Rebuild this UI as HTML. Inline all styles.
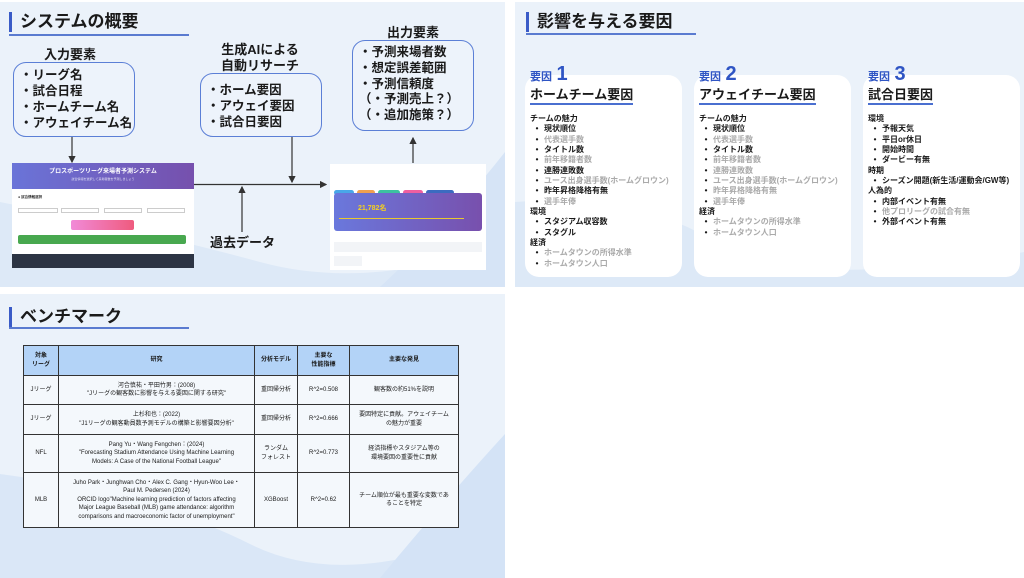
<!DOCTYPE html>
<html><head><meta charset="utf-8"><style>
*{margin:0;padding:0;box-sizing:border-box}
body{width:1024px;height:578px;background:#fff;position:relative;overflow:hidden;font-family:"Liberation Sans","Noto Sans CJK JP",sans-serif;color:#1a1a1a}
.p{position:absolute;background:#ebf2fa;overflow:hidden}
.a{position:absolute}
.ttl{position:absolute;font-size:17px;font-weight:bold;border-left:3px solid #3a5bc7;padding-left:8px;line-height:20px}
.ul{position:absolute;height:2px;background:#5a7bd0}
.box{position:absolute;border:1.5px solid #5b7fd6;border-radius:13px;background:#edf3fb;font-weight:bold;font-size:12.5px;line-height:16px;padding:4px 0 0 6px}
.lbl{position:absolute;font-weight:bold;font-size:13px;text-align:center;line-height:16px}
.card{position:absolute;background:#fff;border-radius:14px;top:75px;height:202px;width:157px}
.yh{position:absolute;color:#2f55c4;font-weight:bold}
.ch{position:absolute;font-weight:bold;font-size:13px;border-bottom:2px solid #4a6fd0;line-height:16px}
.lst{position:absolute;font-size:8px;font-weight:bold;line-height:10.35px}
.lst .g{color:#aaa}
.lst i{font-style:normal;display:inline-block;width:14px;text-align:center}
table{position:absolute;left:23px;top:345px;width:436px;border-collapse:collapse;font-size:6px;line-height:8.5px}
td,th{border:1.5px solid #333;text-align:center;vertical-align:middle}
th{background:#b3d3f7;height:30px}
td{background:#f4f8fc}
</style></head><body>
<!-- panel 1 -->
<div class="p" style="left:0;top:2px;width:505px;height:285px">
 <svg class="a" style="left:0;top:0" width="505" height="285"><path d="M0 200 Q150 230 260 260 T505 240 L505 285 L0 285Z" fill="#dde9f7"/><path d="M380 285 Q450 220 505 150 L505 285Z" fill="#d6e4f6"/></svg>
</div>
<div class="ttl" style="left:9px;top:12px">システムの概要</div>
<div class="ul" style="left:9px;top:34px;width:180px"></div>
<div class="lbl" style="left:20px;top:47px;width:100px">入力要素</div>
<div class="box" style="left:13px;top:62px;width:122px;height:75px">・リーグ名<br>・試合日程<br>・ホームチーム名<br>・アウェイチーム名</div>
<div class="lbl" style="left:200px;top:42px;width:120px">生成AIによる<br>自動リサーチ</div>
<div class="box" style="left:200px;top:73px;width:122px;height:64px;padding-top:8px">・ホーム要因<br>・アウェイ要因<br>・試合日要因</div>
<div class="lbl" style="left:363px;top:25px;width:100px">出力要素</div>
<div class="box" style="left:352px;top:40px;width:122px;height:91px;line-height:15.8px">・予測来場者数<br>・想定誤差範囲<br>・予測信頼度<br>（・予測売上？）<br>（・追加施策？）</div>
<div class="lbl" style="left:205px;top:235px;width:75px;font-size:13px">過去データ</div>
<svg class="a" style="left:0;top:0" width="505" height="290">
 <defs><marker id="ar" markerWidth="6" markerHeight="6" refX="5" refY="3" orient="auto"><path d="M0 0L6 3L0 6Z" fill="#333"/></marker></defs>
 <g stroke="#333" stroke-width="1.2" fill="none">
 <line x1="72" y1="137" x2="72" y2="162" marker-end="url(#ar)"/>
 <line x1="292" y1="137" x2="292" y2="182" marker-end="url(#ar)"/>
 <line x1="194" y1="184.5" x2="326" y2="184.5" marker-end="url(#ar)"/>
 <line x1="242" y1="232" x2="242" y2="187" marker-end="url(#ar)"/>
 <line x1="413" y1="163" x2="413" y2="138" marker-end="url(#ar)"/>
 </g>
</svg>
<!-- left screenshot -->
<div class="a" style="left:12px;top:163px;width:182px;height:105px;background:#fff">
 <div class="a" style="left:0;top:0;width:182px;height:26px;background:linear-gradient(90deg,#6a74d8,#7650ad);color:#fff;font-size:6px;font-weight:bold;text-align:center;line-height:7px;padding-top:6px">プロスポーツリーグ来場者予測システム<div style="font-size:3px;font-weight:normal;opacity:.8">試合情報を選択して来場者数を予測しましょう</div></div>
 <div class="a" style="left:6px;top:32px;font-size:3.5px;font-weight:bold">● 試合情報選択</div>
 <div class="a" style="left:6px;top:45px;width:40px;height:5px;border:.5px solid #ccc"></div>
 <div class="a" style="left:49px;top:45px;width:38px;height:5px;border:.5px solid #ccc"></div>
 <div class="a" style="left:92px;top:45px;width:38px;height:5px;border:.5px solid #ccc"></div>
 <div class="a" style="left:135px;top:45px;width:38px;height:5px;border:.5px solid #ccc"></div>
 <div class="a" style="left:59px;top:57px;width:63px;height:10px;background:linear-gradient(90deg,#f18ad8,#ef5b7e);border-radius:2px"></div>
 <div class="a" style="left:6px;top:72px;width:168px;height:9px;background:#48a84f;border-radius:2px"></div>
 <div class="a" style="left:0;top:91px;width:182px;height:14px;background:#2c3444"></div>
</div>
<!-- right screenshot -->
<div class="a" style="left:330px;top:164px;width:156px;height:106px;background:#fff">
 <div class="a" style="left:4px;top:18px;width:148px;height:6px"><span style="display:inline-block;width:20px;height:5px;background:#49a7e8;border-radius:3px;margin-right:3px"></span><span style="display:inline-block;width:18px;height:5px;background:#f0a050;border-radius:3px;margin-right:3px"></span><span style="display:inline-block;width:22px;height:5px;background:#3cc2a0;border-radius:3px;margin-right:3px"></span><span style="display:inline-block;width:20px;height:5px;background:#ef5fa0;border-radius:3px;margin-right:3px"></span><span style="display:inline-block;width:28px;height:5px;background:#3b6bc0;border-radius:3px"></span></div>
 <div class="a" style="left:4px;top:29px;width:148px;height:38px;background:linear-gradient(90deg,#6a78dc,#7850ad);border-radius:3px"><div class="a" style="left:24px;top:10px;color:#f5d020;font-size:7px;font-weight:bold">21,782名</div><div class="a" style="left:5px;top:25px;width:125px;height:1px;background:#e8c830"></div></div>
 <div class="a" style="left:4px;top:78px;width:148px;height:10px;background:#f2f4f7"></div>
 <div class="a" style="left:4px;top:92px;width:28px;height:10px;background:#f2f4f7"></div>
</div>
<!-- panel 2 -->
<div class="p" style="left:515px;top:2px;width:509px;height:285px">
 <svg class="a" style="left:0;top:0" width="509" height="285"><path d="M0 200 Q120 190 200 240 T509 250 L509 285 L0 285Z" fill="#dde9f7"/></svg>
</div>
<div class="ttl" style="left:526px;top:12px">影響を与える要因</div>
<div class="ul" style="left:526px;top:33px;width:170px"></div>
<div class="card" style="left:525px"></div>
<div class="card" style="left:694px"></div>
<div class="card" style="left:863px"></div>
<div class="yh" style="left:530px;top:63px"><span style="font-size:11px">要因</span> <span style="font-size:20px">1</span></div>
<div class="yh" style="left:699px;top:63px"><span style="font-size:11px">要因</span> <span style="font-size:20px">2</span></div>
<div class="yh" style="left:868px;top:63px"><span style="font-size:11px">要因</span> <span style="font-size:20px">3</span></div>
<div class="ch" style="left:530px;top:87px">ホームチーム要因</div>
<div class="ch" style="left:699px;top:87px">アウェイチーム要因</div>
<div class="ch" style="left:868px;top:87px">試合日要因</div>
<div class="lst" style="left:530px;top:114px">チームの魅力<br><i>•</i>現状順位<br><i>•</i><span class="g">代表選手数</span><br><i>•</i>タイトル数<br><i>•</i><span class="g">前年移籍者数</span><br><i>•</i>連勝連敗数<br><i>•</i><span class="g">ユース出身選手数(ホームグロウン)</span><br><i>•</i>昨年昇格降格有無<br><i>•</i><span class="g">選手年俸</span><br>環境<br><i>•</i>スタジアム収容数<br><i>•</i>スタグル<br>経済<br><i>•</i><span class="g">ホームタウンの所得水準</span><br><i>•</i><span class="g">ホームタウン人口</span></div>
<div class="lst" style="left:699px;top:114px">チームの魅力<br><i>•</i>現状順位<br><i>•</i><span class="g">代表選手数</span><br><i>•</i>タイトル数<br><i>•</i><span class="g">前年移籍者数</span><br><i>•</i><span class="g">連勝連敗数</span><br><i>•</i><span class="g">ユース出身選手数(ホームグロウン)</span><br><i>•</i><span class="g">昨年昇格降格有無</span><br><i>•</i><span class="g">選手年俸</span><br>経済<br><i>•</i><span class="g">ホームタウンの所得水準</span><br><i>•</i><span class="g">ホームタウン人口</span></div>
<div class="lst" style="left:868px;top:114px">環境<br><i>•</i>予報天気<br><i>•</i>平日or休日<br><i>•</i>開始時間<br><i>•</i>ダービー有無<br>時期<br><i>•</i>シーズン開題(新生活/運動会/GW等)<br>人為的<br><i>•</i>内部イベント有無<br><i>•</i><span class="g">他プロリーグの試合有無</span><br><i>•</i>外部イベント有無</div>
<!-- panel 3 -->
<div class="p" style="left:0;top:294px;width:505px;height:284px">
 <svg class="a" style="left:0;top:0" width="505" height="284"><path d="M0 180 Q150 200 250 250 T505 230 L505 284 L0 284Z" fill="#dae7f7"/><path d="M380 284 Q450 200 505 140 L505 284Z" fill="#d4e3f6"/></svg>
</div>
<div class="ttl" style="left:9px;top:307px">ベンチマーク</div>
<div class="ul" style="left:9px;top:327px;width:180px"></div>
<table>
<tr><th style="width:35px">対象<br>リーグ</th><th style="width:196px">研究</th><th style="width:43px">分析モデル</th><th style="width:52px">主要な<br>性能指標</th><th>主要な発見</th></tr>
<tr style="height:29px"><td>Jリーグ</td><td>河合慎祐・平田竹男：(2008)<br>"Jリーグの観客数に影響を与える要因に関する研究"</td><td>重回帰分析</td><td>R^2=0.508</td><td>観客数の約51%を説明</td></tr>
<tr style="height:30px"><td>Jリーグ</td><td>上杉和也：(2022)<br>"J1リーグの観客動員数予測モデルの構築と影響要因分析"</td><td>重回帰分析</td><td>R^2=0.666</td><td>要因特定に貢献。アウェイチーム<br>の魅力が重要</td></tr>
<tr style="height:38px"><td>NFL</td><td>Pang Yu・Wang Fengchen：(2024)<br>"Forecasting Stadium Attendance Using Machine Learning<br>Models: A Case of the National Football League"</td><td>ランダム<br>フォレスト</td><td>R^2=0.773</td><td>経済指標やスタジアム等の<br>環境要因の重要性に貢献</td></tr>
<tr style="height:55px"><td>MLB</td><td>Juho Park・Junghwan Cho・Alex C. Gang・Hyun-Woo Lee・<br>Paul M. Pedersen (2024)<br>ORCID logo"Machine learning prediction of factors affecting<br>Major League Baseball (MLB) game attendance: algorithm<br>comparisons and macroeconomic factor of unemployment"</td><td>XGBoost</td><td>R^2=0.62</td><td>チーム順位が最も重要な変数であ<br>ることを特定</td></tr>
</table>
</body></html>
